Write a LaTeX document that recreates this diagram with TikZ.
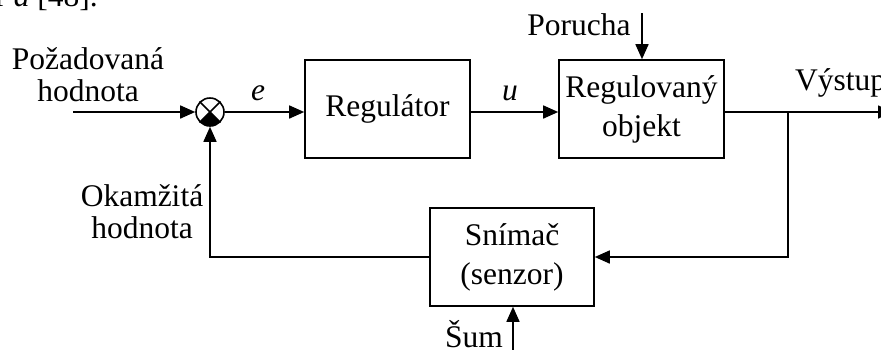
\documentclass[tikz,border=0pt]{standalone}
\usepackage{fontspec}
\setmainfont{Liberation Serif}
\usetikzlibrary{arrows.meta}
\begin{document}
\begin{tikzpicture}[x=1pt,y=-1pt]
\tikzset{blok/.style={draw, line width=1.6pt, minimum width=165pt, minimum height=98pt, align=center, inner sep=0pt, font=\fontsize{31.5}{39}\selectfont}}
\tikzset{popis/.style={align=center, inner sep=0pt, font=\fontsize{31.5}{32}\selectfont}}
\tikzset{sipka/.style={line width=1.6pt, -{Triangle[length=15pt,width=13pt]}}}
\useasboundingbox (0,0) rectangle (881,349);
\node[popis, anchor=base east] (zlomek) at (98,6) {r \textit{a} [48].};
\node[popis, anchor=north] (pozadovana) at (88,47) {Požadovaná\\hodnota};
\node[popis, anchor=north] (okamzita) at (142,184) {Okamžitá\\hodnota};
\node[popis, anchor=base] (porucha) at (579,35) {Porucha};
\node[popis, anchor=base west] (vystup) at (795,90) {Výstup};
\node[popis, anchor=base] (sum) at (474,347) {Šum};
\node[popis, anchor=base] (e) at (258,100) {\textit{e}};
\node[popis, anchor=base] (u) at (510,100) {\textit{u}};
\node[blok] (regulator) at (387.5,109) {Regulátor};
\node[blok] (objekt) at (641.5,109) {Regulovaný\\objekt};
\node[blok, minimum width=164pt] (snimac) at (512,257) {Snímač\\(senzor)};
\node[circle, draw, line width=1.6pt, minimum size=28pt, inner sep=0pt] (suma) at (210,112) {};
\begin{scope}
\clip (210,112) circle[radius=14];
\fill (suma.center) -- ++(20,20) -- ++(-40,0) -- cycle;
\end{scope}
\draw[line width=1.6pt] (suma.north west) -- (suma.south east);
\draw[line width=1.6pt] (suma.north east) -- (suma.south west);
\coordinate (vstup) at (73,112);
\coordinate (zhora) at (642,13);
\coordinate (odbocka) at (788,112);
\coordinate (konec) at (893,112);
\coordinate (zdola) at (513,352);
\draw[sipka] (vstup) -- (suma);
\draw[sipka] (suma) -- (suma -| regulator.west);
\draw[sipka] (regulator.east |- suma) -- (objekt.west |- suma);
\draw[sipka] (zhora) -- (zhora |- objekt.north);
\draw[sipka] (objekt.east |- suma) -- (konec);
\draw[sipka] (odbocka) |- (snimac.east);
\draw[sipka] (snimac.west) -| (suma.south);
\draw[sipka] (zdola) -- (zdola |- snimac.south);
\end{tikzpicture}
\end{document}
